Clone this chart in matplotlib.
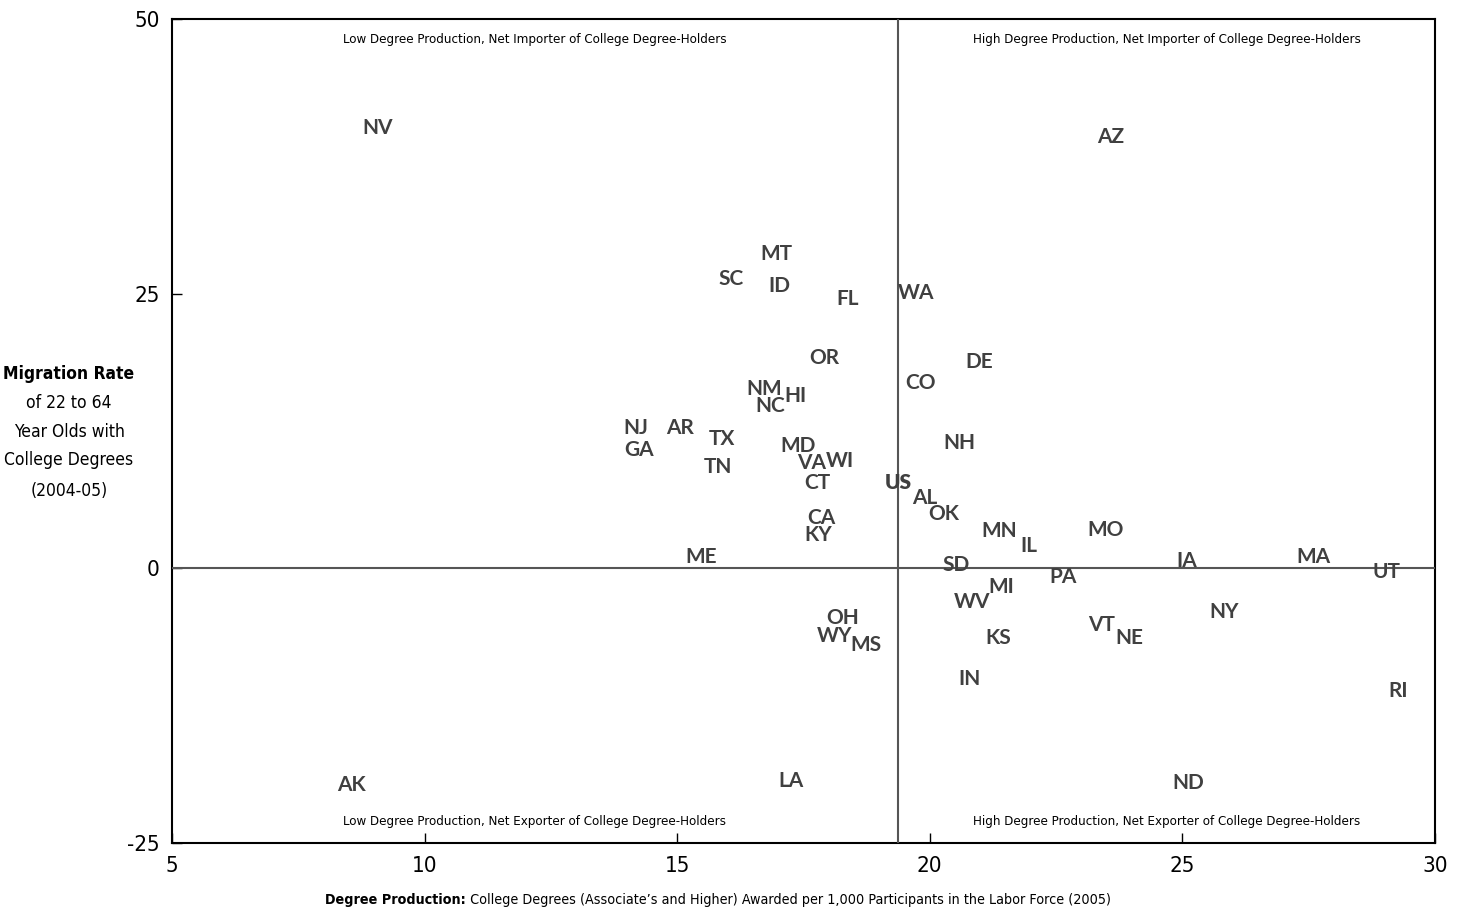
import os
import matplotlib
matplotlib.use('Agg')
import matplotlib.pyplot as plt
from matplotlib import font_manager

# degree production (x) vs migration rate (y)
states = ['NV', 'AZ', 'MT', 'SC', 'ID', 'FL', 'WA', 'OR', 'DE', 'CO',
          'NM', 'HI', 'NC', 'NJ', 'AR', 'TX', 'GA', 'MD', 'NH', 'VA',
          'WI', 'TN', 'CT', 'AL', 'OK', 'CA', 'MN', 'MO', 'KY', 'IL',
          'ME', 'MA', 'IA', 'SD', 'UT', 'PA', 'MI', 'WV', 'NY', 'OH',
          'VT', 'WY', 'KS', 'NE', 'MS', 'IN', 'RI', 'AK', 'LA', 'ND']
degree_production = [9.08, 23.59, 16.96, 16.07, 17.03, 18.38, 19.73, 17.91, 20.97, 19.81,
                     16.72, 17.35, 16.84, 14.18, 15.06, 15.89, 14.24, 17.39, 20.58, 17.67,
                     18.22, 15.81, 17.77, 19.89, 20.28, 17.85, 21.37, 23.47, 17.79, 21.96,
                     15.47, 27.60, 25.09, 20.52, 29.03, 22.64, 21.41, 20.84, 25.82, 18.28,
                     23.39, 18.12, 21.35, 23.94, 18.74, 20.78, 29.27, 8.56, 17.25, 25.11]
migration_rate = [40.1, 39.3, 28.6, 26.3, 25.7, 24.5, 25.1, 19.1, 18.8, 16.9,
                  16.3, 15.7, 14.8, 12.8, 12.8, 11.8, 10.8, 11.1, 11.4, 9.6,
                  9.8, 9.2, 7.8, 6.4, 4.9, 4.6, 3.4, 3.5, 3.0, 2.0,
                  1.0, 1.0, 0.7, 0.3, -0.3, -0.8, -1.7, -3.1, -4.0, -4.5,
                  -5.2, -6.2, -6.3, -6.3, -7.0, -10.1, -11.2, -19.7, -19.4, -19.5]

# national average
us_x = 19.37
us_y = 7.8

quadrant_labels = ['Low Degree Production, Net Importer of College Degree-Holders',
                   'High Degree Production, Net Importer of College Degree-Holders',
                   'Low Degree Production, Net Exporter of College Degree-Holders',
                   'High Degree Production, Net Exporter of College Degree-Holders']
x_ticks = [5, 10, 15, 20, 25, 30]
y_ticks = [-25, 0, 25, 50]
ylabel_lines = ['Migration Rate', 'of 22 to 64', 'Year Olds with', 'College Degrees', '(2004-05)']


# look for a condensed / narrow face for the axis text
def find_narrow(bold):
    files = sorted({f.fname for f in font_manager.fontManager.ttflist})
    for fn in files:
        n = os.path.basename(fn).lower()
        if 'condensed' not in n and 'narrow' not in n:
            continue
        if 'italic' in n or 'oblique' in n:
            continue
        if ('bold' in n) == bold and 'light' not in n and 'extra' not in n and 'semi' not in n:
            return fn
    return None


reg_file = find_narrow(False)
bold_file = find_narrow(True)
if reg_file:
    fp_reg = font_manager.FontProperties(fname=reg_file)
    fp_bold = font_manager.FontProperties(fname=bold_file or reg_file)
    shrink = 1.0
else:
    fp_reg = font_manager.FontProperties(family='DejaVu Sans')
    fp_bold = font_manager.FontProperties(family='DejaVu Sans', weight='bold')
    shrink = 0.85


def fp(size, bold=False):
    p = (fp_bold if bold else fp_reg).copy()
    p.set_size(size * shrink)
    return p


plt.rcParams['axes.unicode_minus'] = False

W, H = 1458, 916
fig = plt.figure(figsize=(W / 100, H / 100), dpi=100)
ax = fig.add_axes([172 / W, 1 - 843 / H, (1435 - 172) / W, (843 - 19) / H])

ax.set_xlim(5, 30)
ax.set_ylim(-25, 50)
ax.set_xticks(x_ticks)
ax.set_yticks(y_ticks)
ax.tick_params(direction='in', length=7, width=1, pad=9, top=False, right=False)
for lab in ax.get_xticklabels() + ax.get_yticklabels():
    lab.set_fontproperties(fp(16))
for sp in ax.spines.values():
    sp.set_linewidth(1.5)

ax.axhline(0, color='#555555', lw=1.5, zorder=3)
ax.axvline(us_x, color='#555555', lw=1.5, zorder=3)

# quadrant captions
left_mid = (5 + us_x) / 2
right_mid = (us_x + 30) / 2
qsize = 9.5
ax.text(left_mid, 48.1, quadrant_labels[0], ha='center', va='center', fontproperties=fp(qsize))
ax.text(right_mid, 48.1, quadrant_labels[1], ha='center', va='center', fontproperties=fp(qsize))
ax.text(left_mid, -23.0, quadrant_labels[2], ha='center', va='center', fontproperties=fp(qsize))
ax.text(right_mid, -23.0, quadrant_labels[3], ha='center', va='center', fontproperties=fp(qsize))

for s, x, y in zip(states, degree_production, migration_rate):
    ax.text(x, y, s, ha='center', va='center', fontsize=15, fontweight='bold',
            color='#404040', family=['Lato', 'DejaVu Sans'])
ax.text(us_x, us_y, 'US', ha='center', va='center', fontsize=15, fontweight='heavy',
        color='#404040', family=['Lato', 'DejaVu Sans'])

# y axis title, stacked lines
ylab_y = [374, 403, 432, 460, 491]
for i, (line, py) in enumerate(zip(ylabel_lines, ylab_y)):
    fig.text(69 / W, 1 - py / H, line, ha='center', va='center',
             fontproperties=fp(12.5, bold=(i == 0)))

# x axis title: bold lead + regular text, centred under the axes
t1 = fig.text(0, 1 - 900 / H, 'Degree Production:', ha='left', va='center',
              fontproperties=fp(10.3, bold=True))
t2 = fig.text(0, 1 - 900 / H,
              ' College Degrees (Associate\u2019s and Higher) Awarded per 1,000 Participants in the Labor Force (2005)',
              ha='left', va='center', fontproperties=fp(10.3))
fig.canvas.draw()
r = fig.canvas.get_renderer()
w1 = t1.get_window_extent(r).width
w2 = t2.get_window_extent(r).width
x0 = 718 - (w1 + w2) / 2
t1.set_x(x0 / W)
t2.set_x((x0 + w1) / W)

fig.savefig('out.png', dpi=100)
